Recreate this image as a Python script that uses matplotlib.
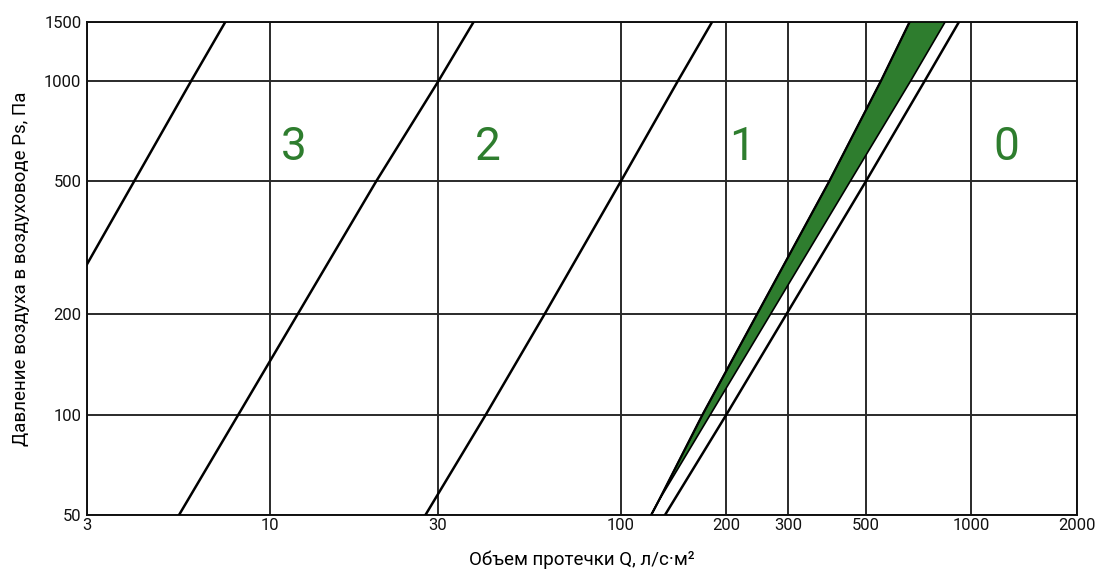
"""
Leakage class chart: duct pressure vs. leakage flow (log-log).
"""
import matplotlib
matplotlib.use('Agg')
import matplotlib.pyplot as plt
from matplotlib.ticker import FixedLocator, NullLocator, FixedFormatter

plt.rcParams['font.family'] = ['Roboto', 'DejaVu Sans']

# axis ticks
x_ticks = [3, 10, 30, 100, 200, 300, 500, 1000, 2000]
y_ticks = [50, 100, 200, 500, 1000, 1500]

# class boundary lines (Q, Ps)
line_a_q = [3, 5.95, 7.44]
line_a_p = [282, 1000, 1500]
line_b_q = [5.49, 8.11, 20.05, 30.2, 38.0]
line_b_p = [50, 100, 500, 1000, 1500]
line_c_q = [27.7, 41.2, 60.6, 100, 145.5, 182]
line_c_p = [50, 100, 200, 500, 1000, 1500]
line_d_q = [133.6, 200, 500, 736, 921]
line_d_p = [50, 100, 500, 1000, 1500]

# green band edges
band_left_q = [122, 128, 171, 393, 552, 666]
band_left_p = [50, 55, 100, 500, 1000, 1500]
band_right_q = [128, 180, 451, 671, 841]
band_right_p = [55, 100, 500, 1000, 1500]

# class labels
class_names = ['3', '2', '1', '0']
class_q = [11.7, 41.7, 222, 1254]
class_p = [634, 634, 634, 634]

GREEN = '#2e7d2e'

fig = plt.figure(figsize=(10.98, 5.74), dpi=100)
ax = fig.add_axes([87 / 1098, 59 / 574, 990 / 1098, 493 / 574])
ax.set_xscale('log')
ax.set_yscale('log')
ax.set_xlim(3, 2000)
ax.set_ylim(50, 1500)

ax.xaxis.set_major_locator(FixedLocator(x_ticks))
ax.xaxis.set_major_formatter(FixedFormatter([str(v) for v in x_ticks]))
ax.xaxis.set_minor_locator(NullLocator())
ax.yaxis.set_major_locator(FixedLocator(y_ticks))
ax.yaxis.set_major_formatter(FixedFormatter([str(v) for v in y_ticks]))
ax.yaxis.set_minor_locator(NullLocator())
ax.tick_params(length=0, labelsize=12, colors='#111')
ax.tick_params(axis='x', pad=2)
ax.tick_params(axis='y', pad=4)

ax.grid(True, color='#2a2a2a', lw=1.4)
ax.set_axisbelow(True)
for s in ax.spines.values():
    s.set_color('#111')
    s.set_linewidth(1.4)

# band
poly_q = band_left_q + band_right_q[::-1]
poly_p = band_left_p + band_right_p[::-1]
ax.fill(poly_q, poly_p, facecolor=GREEN, edgecolor='black', lw=1.2, zorder=3)
ax.plot(band_left_q, band_left_p, color='black', lw=1.6, zorder=4)

for q, p in [(line_a_q, line_a_p), (line_b_q, line_b_p),
             (line_c_q, line_c_p), (line_d_q, line_d_p)]:
    ax.plot(q, p, color='black', lw=1.8, zorder=4)

for name, q, p in zip(class_names, class_q, class_p):
    ax.text(q, p, name, color=GREEN, fontsize=33, ha='center', va='center')

ax.set_xlabel('Объем протечки Q, л/с·м²', fontsize=13.5, labelpad=13)
ax.set_ylabel('Давление воздуха в воздуховоде Ps, Па', fontsize=13.5, labelpad=10)

fig.savefig('out.png', dpi=100)
